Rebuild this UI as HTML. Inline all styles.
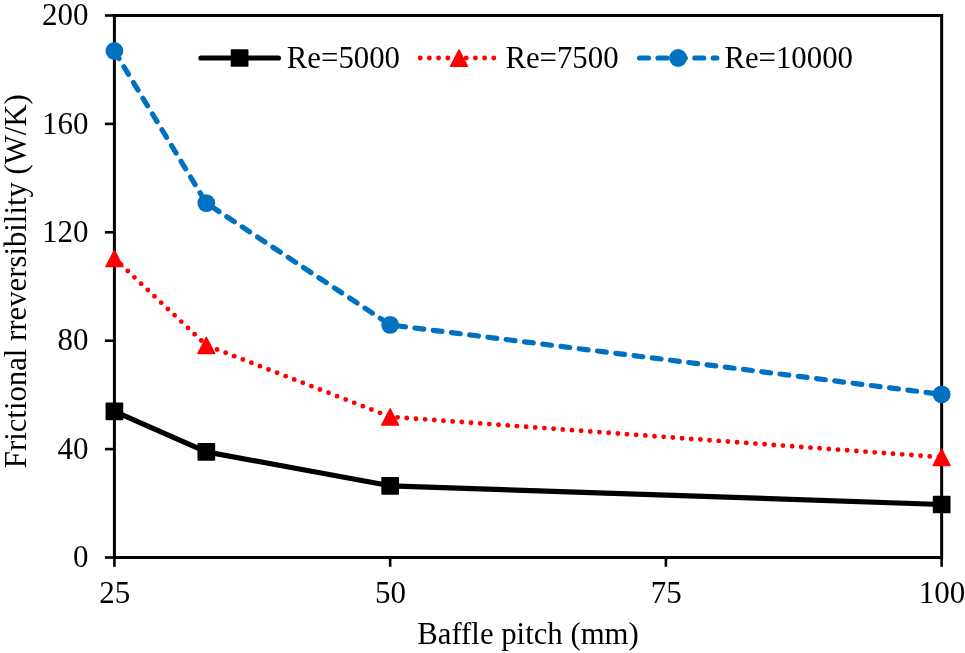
<!DOCTYPE html>
<html lang="en"><head><meta charset="utf-8"><title>Frictional irreversibility vs baffle pitch</title>
<style>
html,body{margin:0;padding:0;background:#fff;}
body{width:965px;height:653px;overflow:hidden;}
svg{display:block;}
text{font-family:"Liberation Serif","Times New Roman",serif;font-size:31.0px;fill:#000;}
</style></head><body>
<svg width="965" height="653" viewBox="0 0 965 653">
<rect width="965" height="653" fill="#fff"/>
<g stroke="#000" fill="none" stroke-linecap="butt">
<rect x="114.4" y="15.5" width="827.25" height="542.0" stroke-width="3"/>
<line x1="104.9" y1="557.50" x2="114.4" y2="557.50" stroke-width="2.6"/>
<line x1="104.9" y1="449.10" x2="114.4" y2="449.10" stroke-width="2.6"/>
<line x1="104.9" y1="340.70" x2="114.4" y2="340.70" stroke-width="2.6"/>
<line x1="104.9" y1="232.30" x2="114.4" y2="232.30" stroke-width="2.6"/>
<line x1="104.9" y1="123.90" x2="114.4" y2="123.90" stroke-width="2.6"/>
<line x1="104.9" y1="15.50" x2="114.4" y2="15.50" stroke-width="2.6"/>
<line x1="114.40" y1="557.5" x2="114.40" y2="566.8" stroke-width="2.6"/>
<line x1="390.15" y1="557.5" x2="390.15" y2="566.8" stroke-width="2.6"/>
<line x1="665.90" y1="557.5" x2="665.90" y2="566.8" stroke-width="2.6"/>
<line x1="941.65" y1="557.5" x2="941.65" y2="566.8" stroke-width="2.6"/>
</g>
<text x="88.5" y="567.20" text-anchor="end">0</text>
<text x="88.5" y="458.80" text-anchor="end">40</text>
<text x="88.5" y="350.40" text-anchor="end">80</text>
<text x="88.5" y="242.00" text-anchor="end">120</text>
<text x="88.5" y="133.60" text-anchor="end">160</text>
<text x="88.5" y="25.20" text-anchor="end">200</text>
<text x="114.80" y="602.7" text-anchor="middle">25</text>
<text x="390.55" y="602.7" text-anchor="middle">50</text>
<text x="666.30" y="602.7" text-anchor="middle">75</text>
<text x="942.05" y="602.7" text-anchor="middle">100</text>
<text x="528" y="643.8" text-anchor="middle" style="font-size:30.75px">Baffle pitch (mm)</text>
<text transform="translate(25.6,281.2) rotate(-90)" text-anchor="middle" style="font-size:30.75px">Frictional rreversibility (W/K)</text>
<polyline points="114.40,411.40 206.32,451.90 390.15,485.80 941.65,504.50" fill="none" stroke="#000" stroke-width="5.2" stroke-linejoin="round" stroke-linecap="round"/>
<polyline points="114.40,258.40 206.32,345.30 390.15,416.80 941.65,457.25" fill="none" stroke="#f00" stroke-width="4.9" stroke-linejoin="round" stroke-linecap="round" stroke-dasharray="0 9.2"/>
<polyline points="114.40,51.00 206.32,203.10 390.15,324.90 941.65,394.40" fill="none" stroke="#0070c0" stroke-width="5.2" stroke-linejoin="round" stroke-linecap="round" stroke-dasharray="8.9 9.5"/>
<rect x="105.55" y="402.55" width="17.7" height="17.7" rx="0.9" fill="#000"/>
<rect x="197.47" y="443.05" width="17.7" height="17.7" rx="0.9" fill="#000"/>
<rect x="381.30" y="476.95" width="17.7" height="17.7" rx="0.9" fill="#000"/>
<rect x="932.80" y="495.65" width="17.7" height="17.7" rx="0.9" fill="#000"/>
<polygon points="114.40,250.30 122.85,266.60 105.95,266.60" fill="#f00" stroke="#f00" stroke-width="1.4" stroke-linejoin="round"/>
<polygon points="206.32,337.20 214.77,353.50 197.87,353.50" fill="#f00" stroke="#f00" stroke-width="1.4" stroke-linejoin="round"/>
<polygon points="390.15,408.70 398.60,425.00 381.70,425.00" fill="#f00" stroke="#f00" stroke-width="1.4" stroke-linejoin="round"/>
<polygon points="941.65,449.15 950.10,465.45 933.20,465.45" fill="#f00" stroke="#f00" stroke-width="1.4" stroke-linejoin="round"/>
<circle cx="114.40" cy="51.00" r="8.9" fill="#0070c0"/>
<circle cx="206.32" cy="203.10" r="8.9" fill="#0070c0"/>
<circle cx="390.15" cy="324.90" r="8.9" fill="#0070c0"/>
<circle cx="941.65" cy="394.40" r="8.9" fill="#0070c0"/>
<line x1="200.90" y1="58.0" x2="278.40" y2="58.0" stroke="#000" stroke-width="5.2" stroke-linecap="round"/>
<rect x="230.75" y="49.15" width="17.7" height="17.7" rx="0.9" fill="#000"/>
<text x="286.8" y="68.2" style="font-size:30.8px">Re=5000</text>
<line x1="420.2" y1="58.0" x2="498" y2="58.0" stroke="#f00" stroke-width="4.9" stroke-linecap="round" stroke-dasharray="0 9.2"/>
<polygon points="459.00,49.90 467.45,66.20 450.55,66.20" fill="#f00" stroke="#f00" stroke-width="1.4" stroke-linejoin="round"/>
<text x="505.4" y="68.2" style="font-size:30.8px">Re=7500</text>
<line x1="639.60" y1="58.0" x2="716.80" y2="58.0" stroke="#0070c0" stroke-width="5.2" stroke-linecap="round" stroke-dasharray="8.9 9.5"/>
<circle cx="678.10" cy="58.00" r="8.9" fill="#0070c0"/>
<text x="724.4" y="68.2" style="font-size:30.8px">Re=10000</text>
</svg></body></html>
